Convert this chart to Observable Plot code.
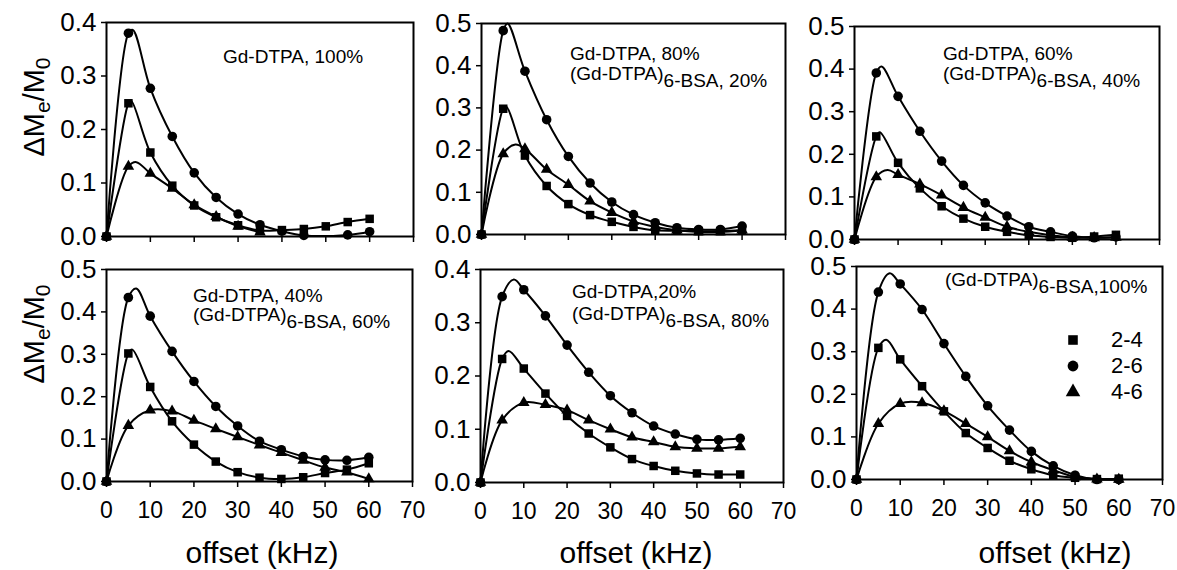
<!DOCTYPE html>
<html>
<head>
<meta charset="utf-8">
<script src="https://cdn.jsdelivr.net/npm/d3@7"></script>
<script src="https://cdn.jsdelivr.net/npm/@observablehq/plot@0.6"></script>
<style>
  body { margin: 0; background: #fff; }
  #chart { position: relative; width: 1177px; height: 570px; font-family: "Liberation Sans", Arial, sans-serif; overflow: hidden; }
  #chart .panel { position: absolute; }
  #chart .overlay { position: absolute; left: 0; top: 0; pointer-events: none; }
  #legend { position: absolute; }
  .lg-swatches { margin: 0 !important; }
  .lg-swatch { height: 26px !important; padding: 0 !important; margin: 0 !important; display: flex !important; align-items: center !important; }
  .lg-swatch svg { margin-right: 29px !important; overflow: visible; }
</style>
</head>
<body>
<div id="chart"></div>
<script>
// ---------- data ----------
const offsets = [0, 5, 10, 15, 20, 25, 30, 35, 40, 45, 50, 55, 60];
const seriesNames = ["2-4", "2-6", "4-6"];
const seriesSymbols = ["square", "circle", "triangle"];
const xTicks = [0, 10, 20, 30, 40, 50, 60, 70];
const yTicks04 = [0, 0.1, 0.2, 0.3, 0.4];
const yTicks05 = [0, 0.1, 0.2, 0.3, 0.4, 0.5];

// Panel 1: Gd-DTPA 100%
const p1_24 = [0, 0.249, 0.157, 0.095, 0.058, 0.036, 0.021, 0.011, 0.012, 0.014, 0.019, 0.027, 0.033];
const p1_26 = [0, 0.380, 0.277, 0.187, 0.119, 0.073, 0.042, 0.022, 0.010, 0.002, null, 0.003, 0.009];
const p1_46 = [0, 0.131, 0.118, 0.090, 0.059, 0.037, 0.019, 0.008, null, null, null, null, null];
const p1_peaks = [[5.6, 0.254], [6.0, 0.386], [6.8, 0.139]];

// Panel 2: Gd-DTPA 80%, (Gd-DTPA)6-BSA 20%
const p2_24 = [0, 0.298, 0.187, 0.115, 0.072, 0.046, 0.030, 0.018, 0.010, 0.009, 0.008, 0.008, 0.010];
const p2_26 = [0, 0.483, 0.387, 0.272, 0.185, 0.122, 0.077, 0.047, 0.028, 0.016, 0.012, 0.012, 0.020];
const p2_46 = [0, 0.191, 0.203, 0.154, 0.118, 0.079, 0.052, 0.031, 0.018, 0.010, 0.006, 0.006, 0.010];
const p2_peaks = [[5.7, 0.303], [6.0, 0.500], [7.8, 0.213]];

// Panel 3: Gd-DTPA 60%, (Gd-DTPA)6-BSA 40%
const p3_24 = [0, 0.242, 0.180, 0.120, 0.078, 0.049, 0.030, 0.018, 0.010, 0.006, 0.004, 0.007, 0.011];
const p3_26 = [0, 0.391, 0.336, 0.254, 0.184, 0.127, 0.086, 0.055, 0.030, 0.018, 0.008, 0.004, 0.006];
const p3_46 = [0, 0.147, 0.152, 0.130, 0.104, 0.075, 0.052, 0.030, 0.018, 0.010, 0.005, 0.004, 0.005];
const p3_peaks = [[5.8, 0.252], [6.2, 0.406], [7.6, 0.163]];

// Panel 4: Gd-DTPA 40%, (Gd-DTPA)6-BSA 60%
const p4_24 = [0, 0.302, 0.223, 0.142, 0.087, 0.047, 0.022, 0.009, 0.006, 0.010, 0.020, 0.028, 0.043];
const p4_26 = [0, 0.434, 0.390, 0.307, 0.236, 0.177, 0.131, 0.095, 0.075, 0.059, 0.051, 0.050, 0.057];
const p4_46 = [0, 0.132, 0.168, 0.166, 0.144, 0.124, 0.105, 0.086, 0.068, 0.050, 0.033, 0.022, 0.006];
const p4_peaks = [[5.9, 0.311], [6.8, 0.455], null];

// Panel 5: Gd-DTPA 20%, (Gd-DTPA)6-BSA 80%
const p5_24 = [0, 0.232, 0.214, 0.167, 0.125, 0.092, 0.066, 0.044, 0.031, 0.022, 0.017, 0.015, 0.015];
const p5_26 = [0, 0.349, 0.362, 0.313, 0.258, 0.207, 0.163, 0.131, 0.106, 0.091, 0.081, 0.080, 0.083];
const p5_46 = [0, 0.117, 0.150, 0.146, 0.136, 0.117, 0.100, 0.085, 0.076, 0.067, 0.064, 0.064, 0.067];
const p5_peaks = [[6.5, 0.247], [7.7, 0.381], null];

// Panel 6: (Gd-DTPA)6-BSA 100%
const p6_24 = [0, 0.309, 0.282, 0.219, 0.160, 0.109, 0.074, 0.044, 0.024, 0.010, 0.004, 0.001, 0.002];
const p6_26 = [0, 0.440, 0.459, 0.399, 0.319, 0.242, 0.173, 0.116, 0.066, 0.032, 0.010, 0.000, 0.000];
const p6_46 = [0, 0.131, 0.178, 0.180, 0.161, 0.131, 0.100, 0.067, 0.041, 0.022, 0.006, 0.001, 0.000];
const p6_peaks = [[6.8, 0.328], [7.6, 0.484], null];

// ---------- layout ----------
const FONT = "Liberation Sans, Arial, sans-serif";
const panels = [
  {values: [p1_24, p1_26, p1_46], peaks: p1_peaks, yTicks: yTicks04, frame: {L: 106, T: 22, R: 413, B: 236}, bottom: false},
  {values: [p2_24, p2_26, p2_46], peaks: p2_peaks, yTicks: yTicks05, frame: {L: 481, T: 23, R: 785, B: 234}, bottom: false},
  {values: [p3_24, p3_26, p3_46], peaks: p3_peaks, yTicks: yTicks05, frame: {L: 854, T: 26, R: 1159, B: 239}, bottom: false},
  {values: [p4_24, p4_26, p4_46], peaks: p4_peaks, yTicks: yTicks05, frame: {L: 106, T: 269, R: 412, B: 481}, bottom: true},
  {values: [p5_24, p5_26, p5_46], peaks: p5_peaks, yTicks: yTicks04, frame: {L: 480, T: 269, R: 783, B: 482}, bottom: true},
  {values: [p6_24, p6_26, p6_46], peaks: p6_peaks, yTicks: yTicks05, frame: {L: 856, T: 266, R: 1162, B: 479}, bottom: true}
];
const markerR = [4.8, 4.8, 4.3];

const chart = document.getElementById("chart");
const mL = 70, mR = 12, mT = 12, mB = 45;

panels.forEach((p) => {
  const points = [];
  const lines = [];
  seriesNames.forEach((name, si) => {
    const vals = p.values[si];
    const ser = [];
    offsets.forEach((x, i) => {
      if (vals[i] != null) {
        points.push({series: name, x, y: vals[i]});
        ser.push({series: name, x, y: vals[i]});
      }
    });
    const pk = p.peaks[si];
    if (pk) ser.push({series: name, x: pk[0], y: pk[1]});
    ser.sort((a, b) => a.x - b.x);
    lines.push(...ser);
  });
  const f = p.frame;
  const ymax = p.yTicks[p.yTicks.length - 1];
  const plot = Plot.plot({
    width: f.R - f.L + mL + mR,
    height: f.B - f.T + mT + mB,
    marginLeft: mL, marginRight: mR, marginTop: mT, marginBottom: mB,
    style: {fontFamily: FONT, fontSize: "23px", color: "black", background: "transparent", overflow: "visible"},
    x: {domain: [0, 70], label: null},
    y: {domain: [0, ymax], label: null},
    symbol: {domain: seriesNames, range: seriesSymbols},
    marks: [
      Plot.frame({stroke: "black", strokeWidth: 2}),
      Plot.axisX({ticks: xTicks, tickSize: 6, tickPadding: 14, strokeWidth: 1.5, fontSize: 23, label: null,
                  tickFormat: p.bottom ? (d) => String(d) : () => ""}),
      Plot.axisY({ticks: p.yTicks, tickSize: 5, tickPadding: 5, strokeWidth: 1.5, fontSize: 26, label: null,
                  tickFormat: (d) => d.toFixed(1)}),
      Plot.line(lines, {x: "x", y: "y", z: "series", curve: "catmull-rom", stroke: "black", strokeWidth: 2}),
      ...seriesNames.map((name, si) =>
        Plot.dot(points.filter((d) => d.series === name),
          {x: "x", y: "y", symbol: "series", fill: "black", stroke: "none", r: markerR[si]}))
    ]
  });
  plot.classList.add("panel");
  plot.style.left = (f.L - mL) + "px";
  plot.style.top = (f.T - mT) + "px";
  chart.appendChild(plot);
});

// ---------- text overlay (titles & annotations) ----------
const svg = d3.create("svg").attr("class", "overlay").attr("width", 1177).attr("height", 570)
  .style("font-family", FONT).style("fill", "black");

function ytitle(cx, cy) {
  const t = svg.append("text").attr("transform", `translate(${cx},${cy}) rotate(-90)`)
    .attr("text-anchor", "middle").attr("font-size", 29);
  t.append("tspan").text("ΔM");
  t.append("tspan").attr("font-size", 21).attr("dy", 6).text("e");
  t.append("tspan").attr("dy", -6).text("/M");
  t.append("tspan").attr("font-size", 21).attr("dy", 6).text("0");
}
ytitle(44, 107);
ytitle(44, 334);

[262, 636, 1055].forEach((cx) => {
  svg.append("text").attr("x", cx).attr("y", 563).attr("text-anchor", "middle")
    .attr("font-size", 30).text("offset (kHz)");
});

function note(x, y, parts) {
  const t = svg.append("text").attr("x", x).attr("y", y).attr("font-size", 19);
  parts.forEach(([s, sub]) => {
    if (sub) {
      t.append("tspan").attr("dy", 7).text(s);
      t.append("tspan").attr("dy", -7).text("");
    } else t.append("tspan").text(s);
  });
}
note(223, 63, [["Gd-DTPA, 100%"]]);
note(570, 60, [["Gd-DTPA, 80%"]]);
note(570, 80, [["(Gd-DTPA)"], ["6", true], ["-BSA, 20%"]]);
note(943, 60, [["Gd-DTPA, 60%"]]);
note(943, 80, [["(Gd-DTPA)"], ["6", true], ["-BSA, 40%"]]);
note(193, 302, [["Gd-DTPA, 40%"]]);
note(193, 321, [["(Gd-DTPA)"], ["6", true], ["-BSA, 60%"]]);
note(572, 298, [["Gd-DTPA,20%"]]);
note(572, 320, [["(Gd-DTPA)"], ["6", true], ["-BSA, 80%"]]);
note(945, 286, [["(Gd-DTPA)"], ["6", true], ["-BSA,100%"]]);

chart.appendChild(svg.node());

// ---------- legend ----------
try {
  const lg = Plot.legend({
    symbol: {domain: seriesNames, range: seriesSymbols},
    fill: "black", r: 4.8, swatchSize: 18, columns: 1, className: "lg",
    style: {fontFamily: FONT, fontSize: "22px", color: "black", background: "transparent"}
  });
  const wrap = document.createElement("div");
  wrap.id = "legend";
  wrap.style.left = "1064px";
  wrap.style.top = "327px";
  wrap.appendChild(lg);
  chart.appendChild(wrap);
} catch (e) { console.error(e); }
</script>
</body>
</html>
